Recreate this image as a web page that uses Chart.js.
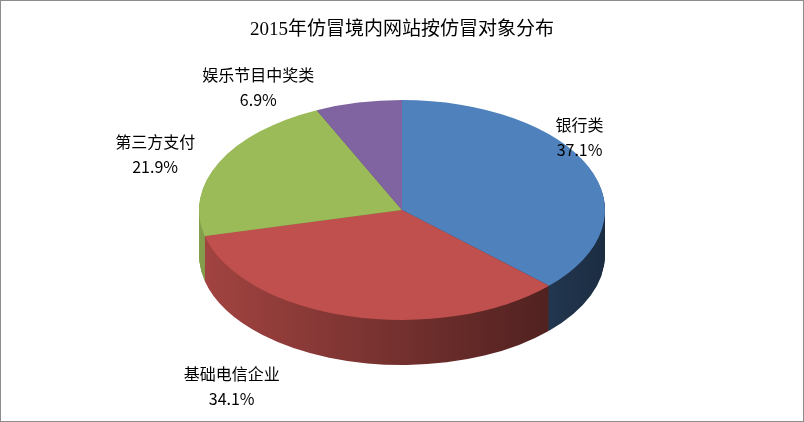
<!DOCTYPE html>
<html>
<head>
<meta charset="utf-8">
<script src="https://cdn.jsdelivr.net/npm/chart.js@4/dist/chart.umd.min.js"></script>
<style>
  body { margin: 0; background: #fff; }
  #wrap { width: 802px; height: 420px; border: 1px solid #8c8c8c; }
</style>
</head>
<body>
<div id="wrap"><canvas id="myChart" width="802" height="420"></canvas></div>
<script>
const titleText = '2015年仿冒境内网站按仿冒对象分布';
const categories = ['银行类', '基础电信企业', '第三方支付', '娱乐节目中奖类'];
const shares = [37.1, 34.1, 21.9, 6.9];
const colors = ['#4F81BD', '#C0504D', '#9BBB59', '#8064A2'];

// 3d look: where the flattened top sits and how thick the side is
const cx = 401, cy = 209, rx = 203, ry = 110, depth = 45;
// label nudges from the rim point of each slice
const nudge = [[-9, -30], [-118, 70], [-64, -8], [-100, -16]];

function shade(hex, f) {
  let n = parseInt(hex.slice(1), 16);
  let r = Math.round(((n >> 16) & 255) * f), g = Math.round(((n >> 8) & 255) * f), b = Math.round((n & 255) * f);
  return `rgb(${r},${g},${b})`;
}

const pie3d = {
  id: 'pie3d',
  beforeDatasetsDraw(chart) {
    let ctx = chart.ctx;
    let arcs = chart.getDatasetMeta(0).data;
    // side walls
    for (let d = depth; d > 0; d--) {
      arcs.forEach((arc, i) => {
        let grad = ctx.createLinearGradient(cx - rx, 0, cx + rx, 0);
        grad.addColorStop(0, shade(colors[i], 0.85));
        grad.addColorStop(1, shade(colors[i], 0.35));
        ctx.beginPath();
        ctx.moveTo(cx, cy + d);
        ctx.ellipse(cx, cy + d, rx, ry, 0, arc.startAngle, arc.endAngle);
        ctx.closePath();
        ctx.fillStyle = grad;
        ctx.fill();
      });
    }
    let a = arcs[0];
    ctx.save();
    ctx.translate(cx, cy);
    ctx.scale(rx / a.outerRadius, ry / a.outerRadius);
    ctx.translate(-a.x, -a.y);
  },
  afterDatasetsDraw(chart) {
    let ctx = chart.ctx;
    ctx.restore();
    let arcs = chart.getDatasetMeta(0).data;
    ctx.font = '16px "Noto Sans CJK SC", "DejaVu Sans", sans-serif';
    ctx.fillStyle = '#000';
    ctx.textAlign = 'center';
    ctx.textBaseline = 'middle';
    arcs.forEach((arc, i) => {
      let mid = (arc.startAngle + arc.endAngle) / 2;
      let x = cx + rx * Math.cos(mid) + nudge[i][0];
      let y = cy + ry * Math.sin(mid) + nudge[i][1];
      ctx.fillText(categories[i], x, y - 12);
      ctx.fillText(shares[i].toFixed(1) + '%', x, y + 13);
    });
  }
};

let ctx = document.getElementById('myChart').getContext('2d');
let chart = new Chart(ctx, {
  type: 'pie',
  data: {
    labels: categories,
    datasets: [{
      data: shares,
      backgroundColor: colors,
      borderWidth: 0
    }]
  },
  options: {
    responsive: false,
    animation: false,
    devicePixelRatio: 1,
    layout: { padding: { top: 10, bottom: 10 } },
    plugins: {
      legend: { display: false },
      tooltip: { enabled: false },
      title: {
        display: true,
        text: titleText,
        color: '#000',
        font: { family: '"Liberation Serif", "Noto Sans CJK SC", serif', size: 19, weight: 'normal' },
        padding: { top: 8, bottom: 10 }
      }
    }
  },
  plugins: [pie3d]
});
</script>
</body>
</html>
